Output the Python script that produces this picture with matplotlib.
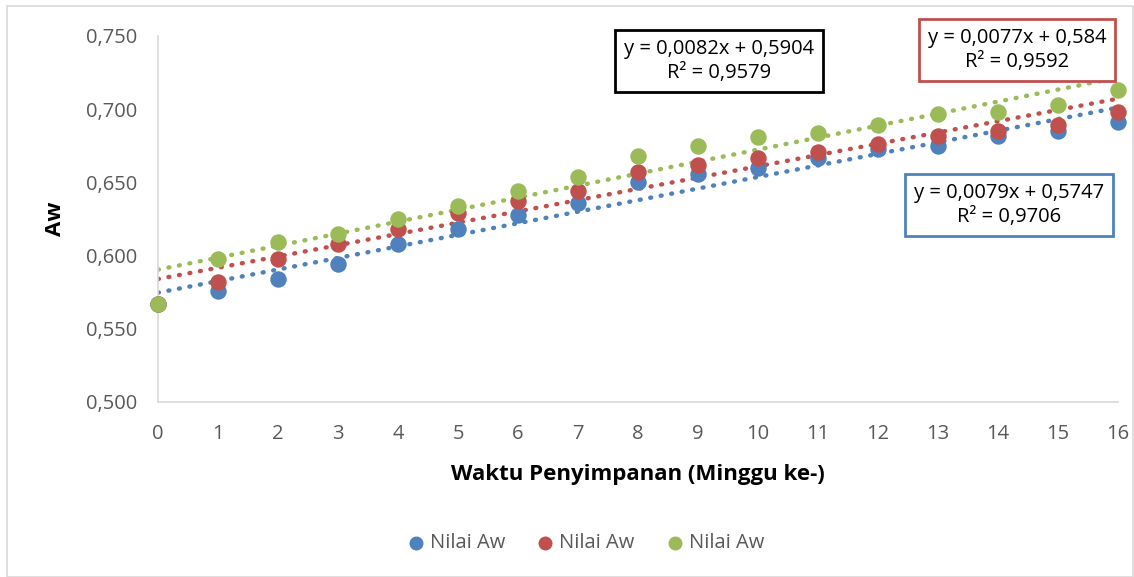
import matplotlib.pyplot as plt
import numpy as np
from matplotlib.patches import Rectangle

plt.rcParams["font.family"] = ["Open Sans", "DejaVu Sans"]

weeks = np.arange(0, 17)
aw_blue = [0.567, 0.576, 0.584, 0.594, 0.608, 0.618, 0.628, 0.636, 0.650,
           0.656, 0.660, 0.667, 0.673, 0.675, 0.682, 0.685, 0.691]
aw_red = [0.567, 0.582, 0.598, 0.608, 0.618, 0.629, 0.637, 0.644, 0.657,
          0.662, 0.667, 0.671, 0.676, 0.682, 0.685, 0.689, 0.698]
aw_green = [0.567, 0.598, 0.609, 0.615, 0.625, 0.634, 0.644, 0.654, 0.668,
            0.675, 0.681, 0.684, 0.689, 0.697, 0.698, 0.703, 0.713]

# trendline coefficients (slope, intercept, R^2)
fit_blue = (0.0079, 0.5747, "0,9706")
fit_red = (0.0077, 0.584, "0,9592")
fit_green = (0.0082, 0.5904, "0,9579")

BLUE, RED, GREEN = "#4F81BD", "#C0504D", "#9BBB59"
TEXT = "#595959"


def fmt_num(v):
    return f"{v:g}".replace(".", ",")


fig = plt.figure(figsize=(11.34, 5.77), dpi=100)
ax = fig.add_axes([158 / 1134, 1 - 402 / 577, 960 / 1134, 366 / 577])

for data, col in ((aw_blue, BLUE), (aw_red, RED), (aw_green, GREEN)):
    ax.scatter(weeks, data, s=140, color=col, zorder=3, clip_on=False,
               label="Nilai Aw", linewidths=0)

xx = np.array([0, 16])
for (m, b, _), col in ((fit_blue, BLUE), (fit_red, RED), (fit_green, GREEN)):
    ax.plot(xx, m * xx + b, color=col, linestyle=(0, (0.2, 2.2)), linewidth=3.2,
            dash_capstyle="round", zorder=2)

ax.set_xlim(0, 16)
ax.set_ylim(0.5, 0.75)
ax.set_xticks(weeks)
ax.set_yticks(np.arange(0.5, 0.751, 0.05))
ax.set_yticklabels([f"{v:.3f}".replace(".", ",") for v in np.arange(0.5, 0.751, 0.05)])
ax.tick_params(length=0, labelsize=14.5, labelcolor=TEXT)
ax.tick_params(axis="y", pad=15)
ax.tick_params(axis="x", pad=16)
for s in ("top", "right"):
    ax.spines[s].set_visible(False)
for s in ("left", "bottom"):
    ax.spines[s].set_color("#D9D9D9")
    ax.spines[s].set_linewidth(1.2)

ax.set_ylabel("Aw", fontsize=16, fontweight="bold", labelpad=14)
ax.set_xlabel("Waktu Penyimpanan (Minggu ke-)", fontsize=16, fontweight="bold", labelpad=14)

# equation labels
boxes = [(fit_green, 719, 61, "black"), (fit_red, 1017, 50, RED), (fit_blue, 1009, 205, BLUE)]
for (m, b, r2), px, py, edge in boxes:
    txt = f"y = {fmt_num(m)}x + {fmt_num(b)}\nR² = {r2}"
    fig.text(px / 1134, 1 - py / 577, txt, ha="center", va="center", fontsize=14.5,
             color="black", linespacing=1.3,
             bbox=dict(boxstyle="square,pad=0.42", facecolor="white", edgecolor=edge, linewidth=2))

leg = ax.legend(loc="center", bbox_to_anchor=(580 / 1134, 1 - 543 / 577),
                bbox_transform=fig.transFigure, ncol=3, frameon=False, fontsize=14.5,
                handletextpad=-0.3, columnspacing=1.0, markerscale=0.85)
for t in leg.get_texts():
    t.set_color(TEXT)

fig.patches.append(Rectangle((7 / 1134, 0), 1 - 7 / 1134 - 0.001, 1 - 6 / 577,
                             transform=fig.transFigure, fill=False,
                             edgecolor="#D9D9D9", linewidth=1.2))

fig.savefig("out.png", dpi=100)
